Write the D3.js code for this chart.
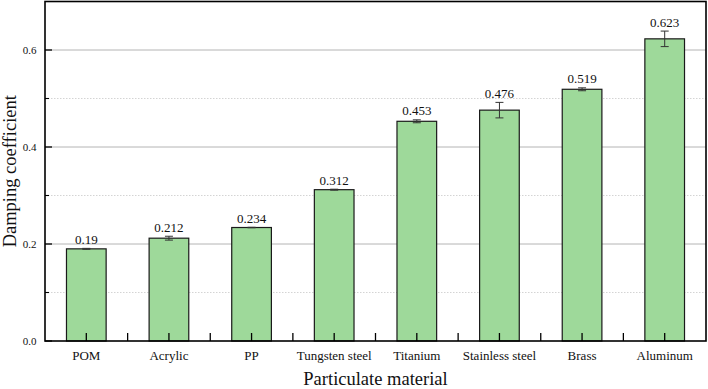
<!DOCTYPE html>
<html>
<head>
<meta charset="utf-8">
<script src="https://cdn.jsdelivr.net/npm/d3@7"></script>
<style>
  html, body { margin: 0; padding: 0; background: #fff; }
  svg text { font-family: 'Times New Roman', 'Liberation Serif', Times, serif; }
</style>
</head>
<body>
<div id="chart"></div>
<script>
// data
const materials = ['POM', 'Acrylic', 'PP', 'Tungsten steel', 'Titanium', 'Stainless steel', 'Brass', 'Aluminum'];
const damping   = [0.19, 0.212, 0.234, 0.312, 0.453, 0.476, 0.519, 0.623];
const errors    = [0.001, 0.004, 0.0005, 0.001, 0.003, 0.016, 0.003, 0.016];
const valueLabels = ['0.19', '0.212', '0.234', '0.312', '0.453', '0.476', '0.519', '0.623'];
const majorTicks = [0, 0.2, 0.4, 0.6];
const minorTicks = [0.1, 0.3, 0.5];

const W = 708, H = 389;
const margin = { top: 1.5, right: 2, bottom: 48, left: 45 };
const BAR_FILL = '#9ED99A';
const INK = '#000';
const SERIF = "'Times New Roman', 'Liberation Serif', Times, serif";

const svg = d3.select('#chart').append('svg')
  .attr('width', W).attr('height', H)
  .attr('font-family', SERIF);

const x = d3.scaleBand()
  .domain(materials)
  .range([margin.left, W - margin.right])
  .paddingInner(0.52).paddingOuter(0.26);

const xc = d3.scaleBand()   // unpadded, for tick positions
  .domain(materials)
  .range([margin.left, W - margin.right]);

const y = d3.scaleLinear()
  .domain([0, 0.7])
  .range([H - margin.bottom, margin.top]);

const plotL = margin.left, plotR = W - margin.right;
const plotT = margin.top, plotB = H - margin.bottom;

// gridlines
svg.append('g').selectAll('line.minor')
  .data(minorTicks).join('line')
  .attr('x1', plotL).attr('x2', plotR)
  .attr('y1', d => y(d)).attr('y2', d => y(d))
  .attr('stroke', '#d4d4d4').attr('stroke-width', 1)
  .attr('stroke-dasharray', '1.5,1.5');

svg.append('g').selectAll('line.major')
  .data(majorTicks.filter(d => d > 0)).join('line')
  .attr('x1', plotL).attr('x2', plotR)
  .attr('y1', d => y(d)).attr('y2', d => y(d))
  .attr('stroke', '#b4b4b4').attr('stroke-width', 1);

// bars
const bars = svg.append('g');
bars.selectAll('rect')
  .data(materials).join('rect')
  .attr('x', d => x(d))
  .attr('y', (d, i) => y(damping[i]))
  .attr('width', x.bandwidth())
  .attr('height', (d, i) => y(0) - y(damping[i]))
  .attr('fill', BAR_FILL)
  .attr('stroke', '#1a1a1a').attr('stroke-width', 1.2);

// error bars
const err = svg.append('g').attr('stroke', '#333').attr('stroke-width', 1);
materials.forEach((m, i) => {
  const cx = xc(m) + xc.bandwidth() / 2;
  const lo = y(damping[i] - errors[i]), hi = y(damping[i] + errors[i]);
  err.append('line').attr('x1', cx).attr('x2', cx).attr('y1', lo).attr('y2', hi);
  err.append('line').attr('x1', cx - 4).attr('x2', cx + 4).attr('y1', lo).attr('y2', lo);
  err.append('line').attr('x1', cx - 4).attr('x2', cx + 4).attr('y1', hi).attr('y2', hi);
});

// value labels
svg.append('g').selectAll('text')
  .data(materials).join('text')
  .attr('x', d => xc(d) + xc.bandwidth() / 2)
  .attr('y', (d, i) => y(damping[i] + errors[i]) - 4.5)
  .attr('text-anchor', 'middle')
  .attr('font-size', 13)
  .attr('fill', '#111')
  .text((d, i) => valueLabels[i]);

// x ticks: inward, at bar centres and between bars
const xTickPos = [];
materials.forEach((m, i) => {
  xTickPos.push(xc(m) + xc.bandwidth() / 2);
  if (i < materials.length - 1) xTickPos.push(xc(m) + xc.bandwidth());
});
svg.append('g').selectAll('line')
  .data(xTickPos).join('line')
  .attr('x1', d => d).attr('x2', d => d)
  .attr('y1', plotB).attr('y2', plotB - 8)
  .attr('stroke', INK).attr('stroke-width', 1.3);

// y ticks: inward
svg.append('g').selectAll('line')
  .data(majorTicks).join('line')
  .attr('x1', plotL).attr('x2', plotL + 7)
  .attr('y1', d => y(d)).attr('y2', d => y(d))
  .attr('stroke', INK).attr('stroke-width', 1.3);
svg.append('g').selectAll('line')
  .data(minorTicks).join('line')
  .attr('x1', plotL).attr('x2', plotL + 4)
  .attr('y1', d => y(d)).attr('y2', d => y(d))
  .attr('stroke', INK).attr('stroke-width', 1.1);

// frame
svg.append('rect')
  .attr('x', plotL).attr('y', plotT)
  .attr('width', plotR - plotL).attr('height', plotB - plotT)
  .attr('fill', 'none').attr('stroke', INK).attr('stroke-width', 1.6);

// tick labels
svg.append('g').selectAll('text')
  .data(majorTicks).join('text')
  .attr('x', plotL - 8.5)
  .attr('y', d => y(d))
  .attr('dy', '0.35em')
  .attr('text-anchor', 'end')
  .attr('font-size', 11)
  .attr('fill', '#111')
  .text(d3.format('.1f'));

svg.append('g').selectAll('text')
  .data(materials).join('text')
  .attr('x', d => xc(d) + xc.bandwidth() / 2)
  .attr('y', plotB + 19)
  .attr('text-anchor', 'middle')
  .attr('font-size', 13)
  .attr('fill', '#111')
  .text(d => d);

// axis titles
svg.append('text')
  .attr('x', (plotL + plotR) / 2)
  .attr('y', H - 4)
  .attr('text-anchor', 'middle')
  .attr('font-size', 18.5)
  .attr('fill', '#111')
  .text('Particulate material');

svg.append('text')
  .attr('transform', `translate(16,${(plotT + plotB) / 2}) rotate(-90)`)
  .attr('text-anchor', 'middle')
  .attr('font-size', 18.5)
  .attr('fill', '#111')
  .text('Damping coefficient');
</script>
</body>
</html>
